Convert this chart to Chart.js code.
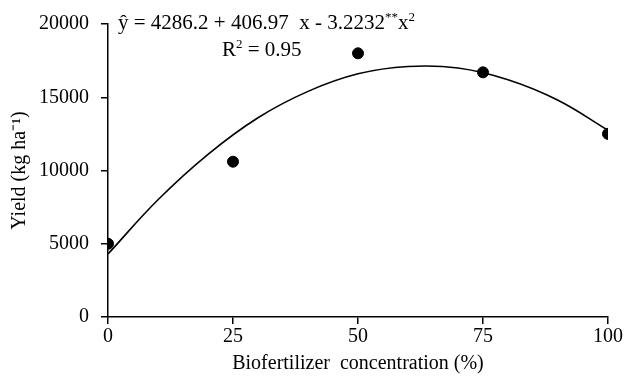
<!DOCTYPE html>
<html>
<head>
<meta charset="utf-8">
<script src="https://cdn.jsdelivr.net/npm/chart.js@4"></script>
<style>
  html, body { margin: 0; padding: 0; background: #fff; }
  #wrap { width: 625px; height: 378px; }
</style>
</head>
<body>
<div id="wrap"><canvas id="chart"></canvas></div>
<script>
// ── Data ─────────────────────────────────────────────────────────
const concentrations = [0, 25, 50, 75, 100];
const yields = [5000, 10600, 18000, 16700, 12500];

// fitted curve
const curveX = [0, 10, 20, 30, 40, 50, 60, 70, 80, 90, 100];
const curveY = [4300, 8000, 11100, 13600, 15400, 16600, 17100, 17000, 16200, 14800, 12750];

const xTicks = [0, 25, 50, 75, 100];
const yTicks = [0, 5000, 10000, 15000, 20000];

const FONT = "'Liberation Serif', 'Times New Roman', serif";

// ── Equation text ────────────────────────────────────────────────
const equationPlugin = {
  id: 'equation',
  afterDraw(chart) {
    const ctx = chart.ctx;
    ctx.save();
    ctx.fillStyle = '#000';
    ctx.textBaseline = 'alphabetic';

    const big = '21px ' + FONT;
    const small = '13px ' + FONT;
    let x = 118, y = 29;
    const parts = [
      ['ŷ = 4286.2 + 406.97  x - 3.2232', big, 0],
      ['**', small, -8],
      ['x', big, 0],
      ['2', small, -8],
    ];
    parts.forEach(([t, f, dy]) => {
      ctx.font = f;
      ctx.fillText(t, x, y + dy);
      x += ctx.measureText(t).width;
    });

    x = 222; y = 56;
    [['R', big, 0], ['2', small, -8], [' = 0.95', big, 0]].forEach(([t, f, dy]) => {
      ctx.font = f;
      ctx.fillText(t, x, y + dy);
      x += ctx.measureText(t).width;
    });
    ctx.restore();
  }
};

// ── Chart ────────────────────────────────────────────────────────
const axisGrid = {
  drawOnChartArea: false,
  drawTicks: true,
  tickLength: 7,
  color: '#000',
  lineWidth: 1.5,
};

new Chart(document.getElementById('chart'), {
  type: 'scatter',
  data: {
    datasets: [
      {
        label: 'fit',
        type: 'line',
        data: curveX.map((x, i) => ({ x, y: curveY[i] })),
        borderColor: '#000',
        borderWidth: 1.6,
        pointRadius: 0,
        tension: 0.4,
        fill: false,
      },
      {
        label: 'Yield',
        data: concentrations.map((x, i) => ({ x, y: yields[i] })),
        backgroundColor: '#000',
        borderColor: '#000',
        pointRadius: 5.5,
        pointHoverRadius: 5.5,
      },
    ]
  },
  options: {
    responsive: true,
    maintainAspectRatio: false,
    animation: false,
    layout: { padding: { left: 0, right: 17, top: 23, bottom: 0 } },
    plugins: {
      legend: { display: false },
      tooltip: { enabled: false },
    },
    scales: {
      x: {
        type: 'linear',
        min: 0,
        max: 100,
        afterFit: (s) => { s.height = 61; },
        afterBuildTicks: (s) => { s.ticks = xTicks.map(v => ({ value: v })); },
        grid: axisGrid,
        border: { color: '#000', width: 1.5 },
        ticks: {
          color: '#000',
          font: { family: FONT, size: 20 },
          padding: 1,
          maxRotation: 0,
          callback: (v) => String(v),
        },
        title: {
          display: true,
          text: 'Biofertilizer  concentration (%)',
          color: '#000',
          font: { family: FONT, size: 20 },
          padding: { top: 0, bottom: 2 },
        },
      },
      y: {
        min: 0,
        max: 20000,
        afterFit: (s) => { s.width = 108; },
        afterBuildTicks: (s) => { s.ticks = yTicks.map(v => ({ value: v })); },
        grid: axisGrid,
        border: { color: '#000', width: 1.5 },
        ticks: {
          color: '#000',
          font: { family: FONT, size: 20 },
          padding: 12,
          callback: (v) => String(v),
        },
        title: {
          display: true,
          text: 'Yield (kg ha⁻¹)',
          color: '#000',
          font: { family: FONT, size: 20 },
          padding: { top: 8, bottom: 0 },
        },
      },
    },
  },
  plugins: [equationPlugin],
});
</script>
</body>
</html>
